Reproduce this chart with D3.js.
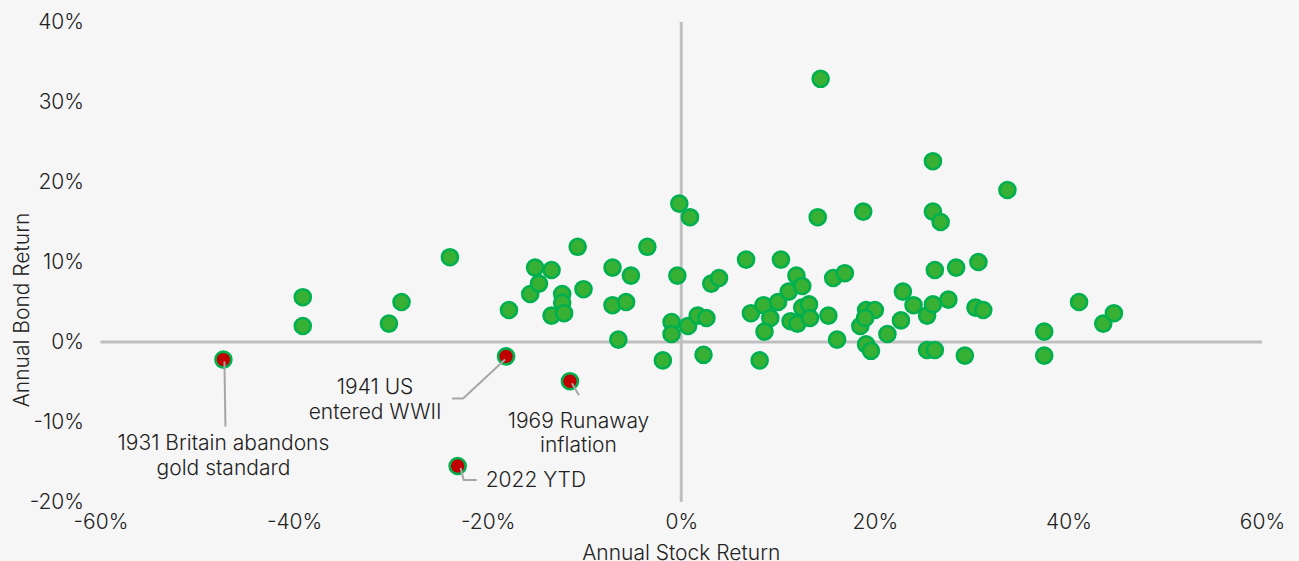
<!DOCTYPE html>
<html>
<head>
<meta charset="utf-8">
<script src="https://cdn.jsdelivr.net/npm/d3@7"></script>
<style>
  html, body { margin: 0; padding: 0; background: #f6f6f6; }
  svg { display: block; }
  text { font-family: Inter, "Noto Sans", sans-serif; font-weight: 300; fill: #222; }
</style>
</head>
<body>
<div id="chart"></div>
<script>
// annual stock vs bond returns (%)
let stockReturns = [
  -39.1, -39.1, -30.2, -28.9, -23.9, -17.8, -15.6, -15.1, -14.7, -13.4,
  -13.4, -12.3, -12.3, -12.1, -10.7, -10.1, -7.1, -7.1, -5.7, -5.2,
  -6.5, -3.5, -1.9, -0.4, -0.2, 0.9, -1.0, -1.0, 0.7, 1.7,
  2.6, 2.3, 3.1, 3.9, 6.7, 7.2, 8.1, 8.5, 9.2, 8.6,
  10.0, 10.3, 11.1, 11.9, 12.5, 11.3, 12.0, 12.5, 13.2, 13.3,
  15.2, 14.4, 14.1, 15.7, 16.9, 16.1, 18.8, 19.1, 20.0, 18.5,
  19.0, 19.1, 19.6, 21.3, 22.7, 22.9, 24.0, 25.4, 26.0, 26.2,
  25.4, 26.2, 26.0, 26.0, 26.8, 27.6, 28.4, 30.7, 30.4, 31.2,
  29.3, 33.7, 37.5, 37.5, 41.1, 43.6, 44.7
];
let bondReturns = [
  5.6, 2.0, 2.3, 5.0, 10.6, 4.0, 6.0, 9.3, 7.3, 9.0,
  3.3, 6.0, 4.9, 3.6, 11.9, 6.6, 9.3, 4.6, 5.0, 8.3,
  0.3, 11.9, -2.3, 8.3, 17.3, 15.6, 2.5, 1.0, 2.0, 3.3,
  3.0, -1.6, 7.3, 8.0, 10.3, 3.6, -2.3, 4.6, 3.0, 1.3,
  5.0, 10.3, 6.3, 8.3, 7.0, 2.6, 2.3, 4.3, 4.7, 3.0,
  3.3, 32.9, 15.6, 8.0, 8.6, 0.3, 16.3, 4.0, 4.0, 2.0,
  3.0, -0.3, -1.1, 1.0, 2.7, 6.3, 4.6, 3.3, 4.7, 9.0,
  -1.0, -1.0, 22.6, 16.3, 15.0, 5.3, 9.3, 10.0, 4.3, 4.0,
  -1.7, 19.0, 1.3, -1.7, 5.0, 2.3, 3.6
];

// highlighted years
let eventLabels = [
  ['1931 Britain abandons', 'gold standard'],
  ['1941 US', 'entered WWII'],
  ['1969 Runaway', 'inflation'],
  ['2022 YTD']
];
let eventStock = [-47.3, -18.1, -11.5, -23.1];
let eventBond = [-2.2, -1.8, -4.9, -15.5];

let xTicks = [-60, -40, -20, 0, 20, 40, 60];
let yTicks = [-20, -10, 0, 10, 20, 30, 40];

// where each callout sits, in pixels from its dot
let calloutLayout = [
  {leader: [[1, 2], [2, 67]], anchor: 'middle', tx: 0, ty: 83.5},
  {leader: [[-1, 3], [-43, 42], [-54, 42]], anchor: 'middle', tx: -131, ty: 30.5},
  {leader: [[2, 2], [9, 14]], anchor: 'middle', tx: 8.5, ty: 39},
  {leader: [[3, 2], [6, 14], [19, 14]], anchor: 'start', tx: 28, ty: 14}
];

const width = 1299;
const height = 561;
const fontSize = 21;
const lineGap = 24.5;

let svg = d3.select('#chart').append('svg')
  .attr('width', width)
  .attr('height', height);

let x = d3.scaleLinear().domain([-60, 60]).range([100.5, 1262]);
let y = d3.scaleLinear().domain([-20, 40]).range([502, 22]);
let pct = d => d + '%';

// tick labels only, no axis lines
let styleTicks = function(g) {
  g.select('.domain').remove();
  g.selectAll('text')
    .style('font-size', fontSize + 'px')
    .style('font-family', 'Inter, "Noto Sans", sans-serif')
    .style('font-weight', 300)
    .attr('fill', '#222');
};

svg.append('g')
  .attr('transform', 'translate(0,' + y(-20) + ')')
  .call(d3.axisBottom(x).tickValues(xTicks).tickFormat(pct).tickSize(0).tickPadding(12))
  .call(styleTicks);

svg.append('g')
  .attr('transform', 'translate(' + 84 + ',0)')
  .call(d3.axisLeft(y).tickValues(yTicks).tickFormat(pct).tickSize(0).tickPadding(0))
  .call(styleTicks);

// zero lines
svg.append('line')
  .attr('x1', x(-60)).attr('x2', x(60))
  .attr('y1', y(0)).attr('y2', y(0))
  .style('stroke', '#bfbfbf').style('stroke-width', 3);
svg.append('line')
  .attr('x1', x(0)).attr('x2', x(0))
  .attr('y1', y(40)).attr('y2', y(-20))
  .style('stroke', '#bfbfbf').style('stroke-width', 3);

// axis titles
svg.append('text')
  .attr('x', x(0))
  .attr('y', 560)
  .attr('text-anchor', 'middle')
  .style('font-size', fontSize + 'px')
  .text('Annual Stock Return');
svg.append('text')
  .attr('transform', 'translate(29,310) rotate(-90)')
  .attr('text-anchor', 'middle')
  .style('font-size', fontSize + 'px')
  .text('Annual Bond Return');

// all other years
svg.append('g').selectAll('circle.year')
  .data(d3.range(stockReturns.length))
  .enter()
  .append('circle')
  .attr('class', 'year')
  .attr('cx', function(i) {
    return x(stockReturns[i]);
  })
  .attr('cy', function(i) {
    return y(bondReturns[i]);
  })
  .attr('r', 8)
  .style('fill', '#37b034')
  .style('stroke', '#00b04f')
  .style('stroke-width', 2.6);

// callouts
let events = svg.append('g').selectAll('g.event')
  .data(d3.range(eventStock.length))
  .enter()
  .append('g')
  .attr('class', 'event')
  .attr('transform', function(i) {
    return 'translate(' + x(eventStock[i]) + ',' + y(eventBond[i]) + ')';
  });

events.append('circle')
  .attr('r', 8)
  .style('fill', '#c00000')
  .style('stroke', '#00b04f')
  .style('stroke-width', 2.6);

events.append('path')
  .attr('d', function(i) {
    return d3.line()(calloutLayout[i].leader);
  })
  .style('fill', 'none')
  .style('stroke', '#a6a6a6')
  .style('stroke-width', 2);

events.append('text')
  .attr('text-anchor', function(i) {
    return calloutLayout[i].anchor;
  })
  .style('font-size', fontSize + 'px')
  .each(function(i) {
    let t = d3.select(this);
    eventLabels[i].forEach(function(line, k) {
      t.append('tspan')
        .attr('x', calloutLayout[i].tx)
        .attr('y', calloutLayout[i].ty + k * lineGap)
        .attr('dy', '0.35em')
        .text(line);
    });
  });
</script>
</body>
</html>
